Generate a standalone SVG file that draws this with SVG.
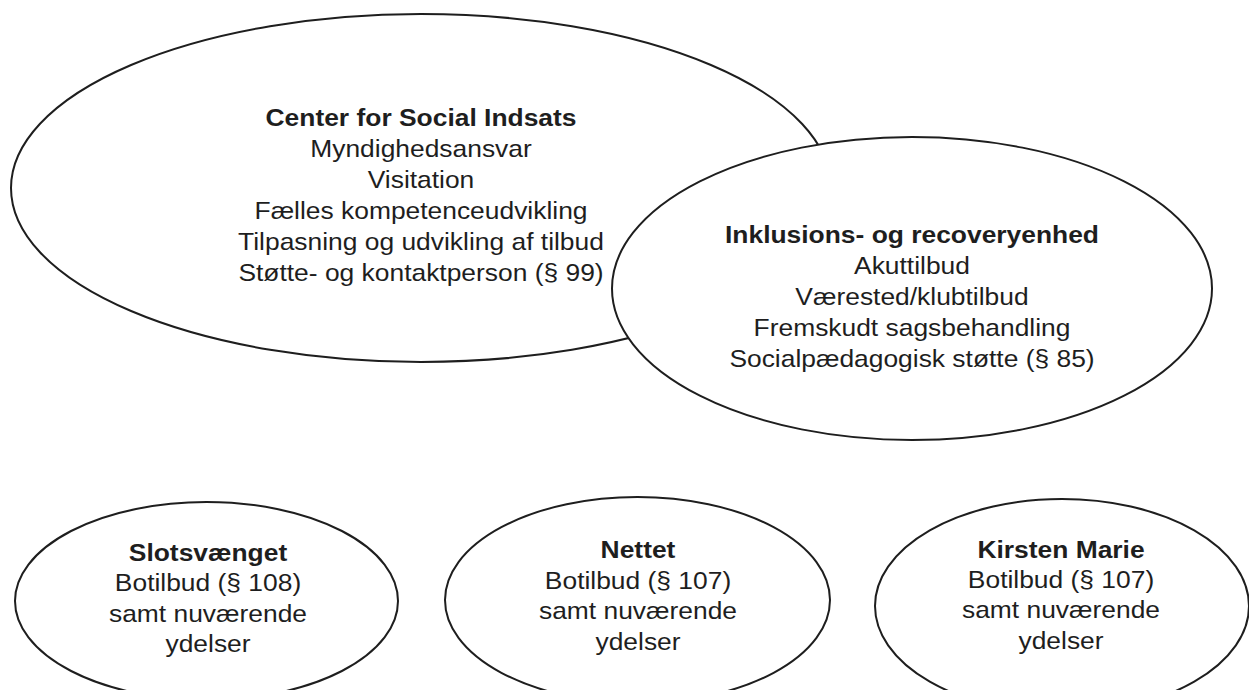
<svg xmlns="http://www.w3.org/2000/svg" width="1249" height="690" viewBox="0 0 1249 690">
<style>
.shape{fill:#ffffff;stroke:#1e1e1e;stroke-width:2}
.t{font-family:"Liberation Sans",Arial,sans-serif;font-size:24px;fill:#1e1e1e;text-anchor:middle}
.b{font-weight:bold}
</style>
<rect x="0" y="0" width="1249" height="690" fill="#ffffff"/>
<g id="connectors"></g>
<g id="center-for-social-indsats">
<ellipse class="shape" cx="421" cy="188" rx="410" ry="174"/>
<g transform="translate(421,0) scale(1.1,1)">
<text class="t b" x="0" y="126">Center for Social Indsats</text>
<text class="t" x="0" y="157">Myndighedsansvar</text>
<text class="t" x="0" y="188">Visitation</text>
<text class="t" x="0" y="219">Fælles kompetenceudvikling</text>
<text class="t" x="0" y="250">Tilpasning og udvikling af tilbud</text>
<text class="t" x="0" y="281">Støtte- og kontaktperson (§ 99)</text>
</g>
</g>
<g id="inklusions-og-recoveryenhed">
<ellipse class="shape" cx="912" cy="288.5" rx="300" ry="151.5"/>
<g transform="translate(912,0) scale(1.1,1)">
<text class="t b" x="0" y="243">Inklusions- og recoveryenhed</text>
<text class="t" x="0" y="274">Akuttilbud</text>
<text class="t" x="0" y="305">Værested/klubtilbud</text>
<text class="t" x="0" y="336">Fremskudt sagsbehandling</text>
<text class="t" x="0" y="367">Socialpædagogisk støtte (§ 85)</text>
</g>
</g>
<g id="slotsvaenget">
<ellipse class="shape" cx="206.5" cy="601" rx="191.5" ry="99"/>
<g transform="translate(208,0) scale(1.1,1)">
<text class="t b" x="0" y="561">Slotsvænget</text>
<text class="t" x="0" y="591">Botilbud (§ 108)</text>
<text class="t" x="0" y="622">samt nuværende</text>
<text class="t" x="0" y="652">ydelser</text>
</g>
</g>
<g id="nettet">
<ellipse class="shape" cx="637.5" cy="600" rx="192.5" ry="103"/>
<g transform="translate(638,0) scale(1.1,1)">
<text class="t b" x="0" y="558">Nettet</text>
<text class="t" x="0" y="589">Botilbud (§ 107)</text>
<text class="t" x="0" y="619">samt nuværende</text>
<text class="t" x="0" y="650">ydelser</text>
</g>
</g>
<g id="kirsten-marie">
<ellipse class="shape" cx="1062" cy="606" rx="187" ry="107"/>
<g transform="translate(1061,0) scale(1.1,1)">
<text class="t b" x="0" y="558">Kirsten Marie</text>
<text class="t" x="0" y="588">Botilbud (§ 107)</text>
<text class="t" x="0" y="618">samt nuværende</text>
<text class="t" x="0" y="649">ydelser</text>
</g>
</g>
</svg>
